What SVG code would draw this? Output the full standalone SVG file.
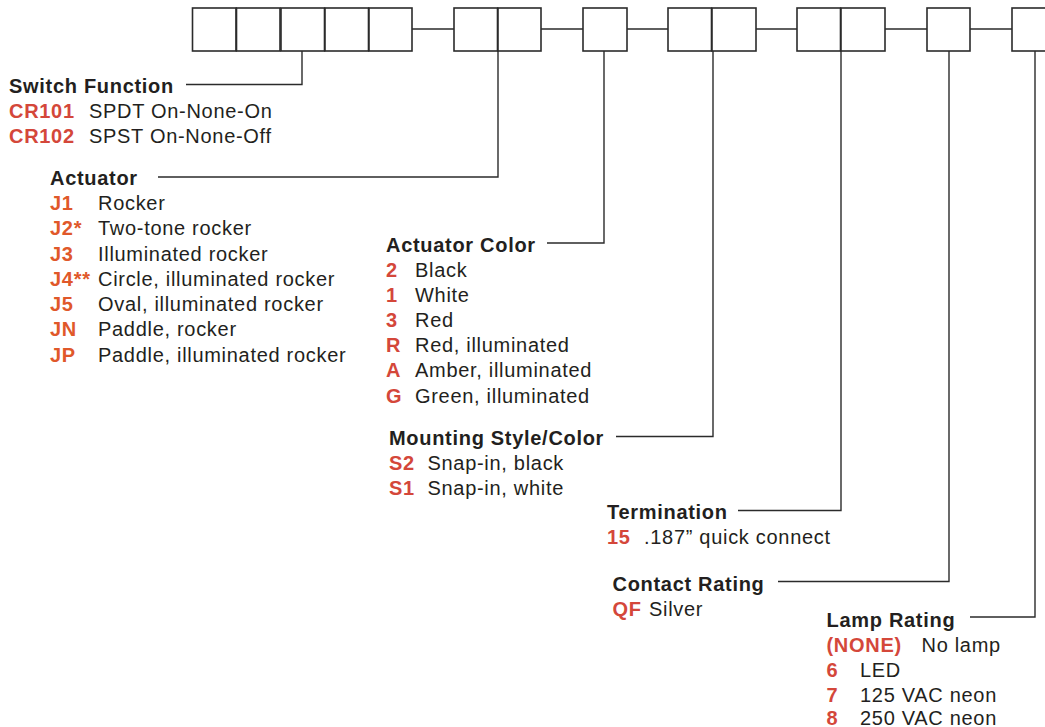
<svg xmlns="http://www.w3.org/2000/svg" width="1045" height="727" viewBox="0 0 1045 727">
<style>
text{font-family:"Liberation Sans",Arial,Helvetica,sans-serif;font-size:20px;letter-spacing:0.7px;fill:#231f20}
.t{font-weight:bold}
.c{font-weight:bold;fill:#d4473a}
.o{font-weight:bold;fill:#e0582a}
.box{fill:#fff;stroke:#2b2b2b;stroke-width:1.6}
.ln{fill:none;stroke:#2b2b2b;stroke-width:1.4}
</style>
<rect width="1045" height="727" fill="#fff"/>
<g id="connectors">
<path class="ln" d="M412 29H454M541 29H583M627 29H668M756 29H797M885 29H927M970 29H1012"/>
<path class="ln" d="M186 84.5H302V51"/>
<path class="ln" d="M158 177H498V51"/>
<path class="ln" d="M547 243H604V51"/>
<path class="ln" d="M616 436.5H713V51"/>
<path class="ln" d="M738 510.5H841V51"/>
<path class="ln" d="M778 581.5H949V51"/>
<path class="ln" d="M970 617H1035V51"/>
</g>
<g id="code-boxes">
<rect class="box" x="192.5" y="8" width="43.5" height="43"/>
<rect class="box" x="236.5" y="8" width="43.5" height="43"/>
<rect class="box" x="281" y="8" width="43.5" height="43"/>
<rect class="box" x="325" y="8" width="43.5" height="43"/>
<rect class="box" x="369" y="8" width="43" height="43"/>
<rect class="box" x="454" y="8" width="43.5" height="43"/>
<rect class="box" x="498" y="8" width="43" height="43"/>
<rect class="box" x="583" y="8" width="44" height="43"/>
<rect class="box" x="668" y="8" width="43.5" height="43"/>
<rect class="box" x="712" y="8" width="44" height="43"/>
<rect class="box" x="797" y="8" width="43.5" height="43"/>
<rect class="box" x="841" y="8" width="44" height="43"/>
<rect class="box" x="927" y="8" width="43" height="43"/>
<rect class="box" x="1012" y="8" width="46" height="43"/>
</g>
<g id="switch-function">
<text class="t" x="9" y="93">Switch Function</text>
<text class="c" x="9" y="117.5">CR101</text><text x="89" y="117.5">SPDT On-None-On</text>
<text class="c" x="9" y="142.5">CR102</text><text x="89" y="142.5">SPST On-None-Off</text>
</g>
<g id="actuator">
<text class="t" x="50" y="185">Actuator</text>
<text class="o" x="50" y="210">J1</text><text x="98" y="210">Rocker</text>
<text class="o" x="50" y="235.3">J2*</text><text x="98" y="235.3">Two-tone rocker</text>
<text class="o" x="50" y="260.5">J3</text><text x="98" y="260.5">Illuminated rocker</text>
<text class="o" x="50" y="285.8">J4**</text><text x="98" y="285.8">Circle, illuminated rocker</text>
<text class="o" x="50" y="311">J5</text><text x="98" y="311">Oval, illuminated rocker</text>
<text class="o" x="50" y="336.3">JN</text><text x="98" y="336.3">Paddle, rocker</text>
<text class="o" x="50" y="361.5">JP</text><text x="98" y="361.5">Paddle, illuminated rocker</text>
</g>
<g id="actuator-color">
<text class="t" x="386" y="251.5">Actuator Color</text>
<text class="c" x="386" y="276.7">2</text><text x="415" y="276.7">Black</text>
<text class="c" x="386" y="301.8">1</text><text x="415" y="301.8">White</text>
<text class="c" x="386" y="327">3</text><text x="415" y="327">Red</text>
<text class="c" x="386" y="352">R</text><text x="415" y="352">Red, illuminated</text>
<text class="c" x="386" y="377.3">A</text><text x="415" y="377.3">Amber, illuminated</text>
<text class="c" x="386" y="402.5">G</text><text x="415" y="402.5">Green, illuminated</text>
</g>
<g id="mounting">
<text class="t" x="389" y="445">Mounting Style/Color</text>
<text class="c" x="389" y="470">S2</text><text x="427.5" y="470">Snap-in, black</text>
<text class="c" x="389" y="495">S1</text><text x="427.5" y="495">Snap-in, white</text>
</g>
<g id="termination">
<text class="t" x="607" y="518.5">Termination</text>
<text class="c" x="607" y="543.5">15</text><text x="644" y="543.5">.187” quick connect</text>
</g>
<g id="contact-rating">
<text class="t" x="612.5" y="590.5">Contact Rating</text>
<text class="c" x="612.5" y="616">QF</text><text x="649" y="616">Silver</text>
</g>
<g id="lamp-rating">
<text class="t" x="826.5" y="626.5">Lamp Rating</text>
<text class="c" x="826.5" y="652">(NONE)</text><text x="921.5" y="652">No lamp</text>
<text class="c" x="826.5" y="677">6</text><text x="860" y="677">LED</text>
<text class="c" x="826.5" y="702">7</text><text x="860" y="702">125 VAC neon</text>
<text class="c" x="826.5" y="725">8</text><text x="860" y="725">250 VAC neon</text>
</g>
</svg>
